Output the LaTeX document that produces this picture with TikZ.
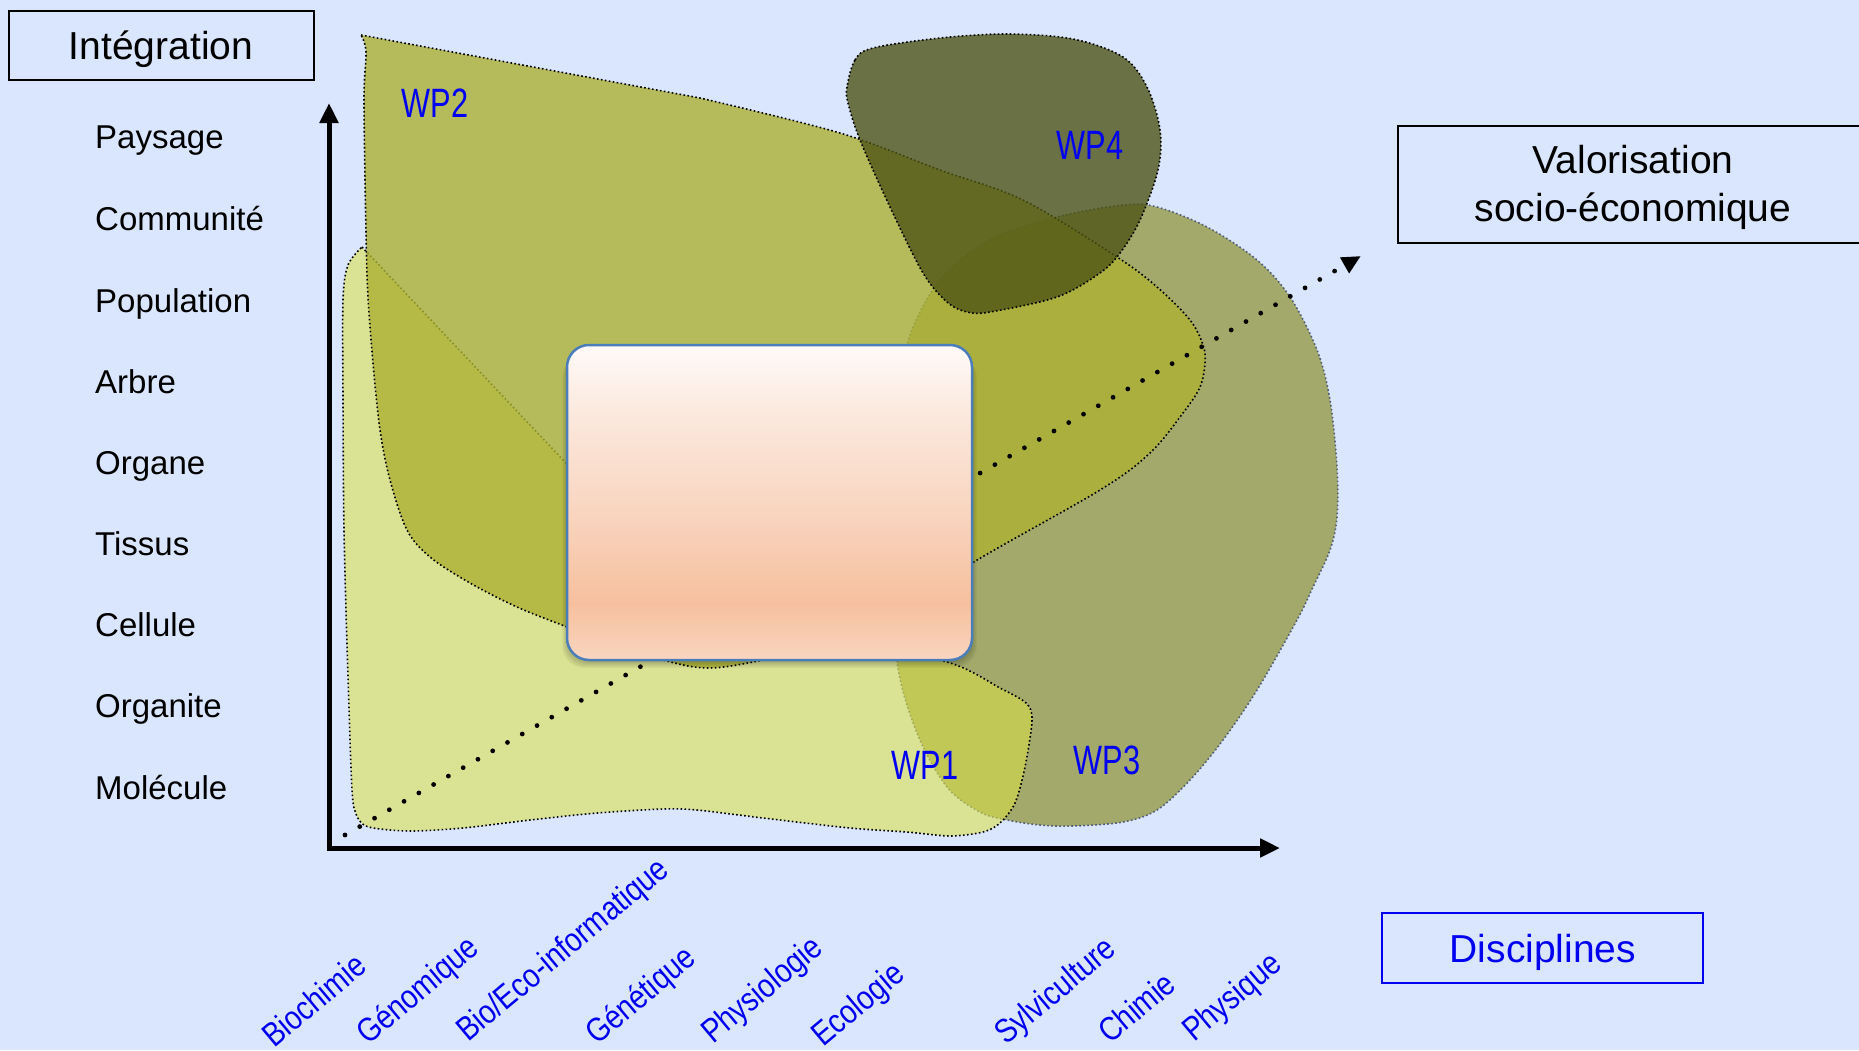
\documentclass[tikz,border=0pt]{standalone}
\usepackage{fontspec}
\setmainfont{Liberation Sans}
\usetikzlibrary{arrows.meta}
\definecolor{bg}{RGB}{218,229,254}
\definecolor{wpone}{RGB}{218,224,72}
\definecolor{wptwo}{RGB}{172,177,51}
\definecolor{wpthree}{RGB}{162,169,106}
\definecolor{wpfour}{RGB}{77,83,20}
\definecolor{wpthreeline}{RGB}{80,92,120}
\definecolor{wpblue}{RGB}{0,0,240}
\definecolor{boxborder}{RGB}{74,126,187}
\definecolor{shB}{RGB}{249,213,192}
\definecolor{shP}{RGB}{246,192,158}
\definecolor{shM}{RGB}{249,215,195}
\definecolor{shL}{RGB}{251,231,219}
\definecolor{shT}{RGB}{255,250,248}
\pgfdeclareverticalshading{boxshade}{100bp}{color(0bp)=(shB); color(25bp)=(shB); color(34bp)=(shP); color(50bp)=(shM); color(63bp)=(shL); color(75bp)=(shT); color(100bp)=(shT)}
\begin{document}
\begin{tikzpicture}[x=1pt,y=-1pt,
  lvl/.style={anchor=base west, inner sep=0pt, font=\fontsize{33}{40}\selectfont},
  disc/.style={anchor=base west, inner sep=0pt, rotate=40, xscale=0.85, text=wpblue, font=\fontsize{33.5}{40}\selectfont},
  wplabel/.style={inner sep=0pt, text=wpblue, font=\fontsize{41}{48}\selectfont, xscale=0.75},
  bigtext/.style={inner sep=0pt, anchor=base, font=\fontsize{39}{48}\selectfont},
  shapeline/.style={line width=1.6pt, dash pattern=on 1.6pt off 2.4pt},
  axisline/.style={line width=5pt, -{Triangle[length=20pt,width=18pt]}},
  frame/.style={draw, line width=2.5pt, inner sep=0pt},
]
\useasboundingbox (0,0) rectangle (1859,1050);
\fill[bg] (0,0) rectangle (1859,1050);

% WP3
\path[fill=wpthree, draw=wpthreeline, shapeline]
  plot[smooth cycle, tension=0.55] coordinates {(1123,205) (1157,207) (1207,227) (1257,260) (1290,297) (1317,350) (1330,400) (1337,467) (1337,517) (1330,550) (1313,587) (1297,620) (1257,690) (1223,740) (1190,780) (1157,810) (1123,822) (1073,826) (1040,825) (1007,820) (980,812) (947,787) (917,733) (897,662) (893,560) (895,450) (900,390) (910,335) (940,280) (990,240) (1057,217)};

% WP1
\path[fill=wpone, fill opacity=0.58, draw=black, shapeline]
  (362,247) -- (565,462) -- (700,600) -- plot[smooth, tension=0.5] coordinates {(700,600) (830,640) (947,662) (1000,688) (1026,703) (1032,720) (1025,767) (1015,803) (1000,823) (983,832) (950,836) (907,832) (850,828) (763,818) (697,810) (663,809) (597,813) (530,820) (463,828) (413,831) (380,829) (364,825) (356,814) (352,790) (348,677) (344,530) (343,400) (343,300) (348,265) (362,247)} -- cycle;

% WP2
\path[fill=wptwo, fill opacity=0.8, draw=black, shapeline]
  (361,35) -- (700,98) -- plot[smooth, tension=0.55] coordinates {(700,98) (840,133) (940,170) (1023,200) (1117,257) (1157,287) (1190,320) (1203,345) (1205,363) (1200,387) (1183,413) (1150,453) (1100,490) (972,563) (850,640) (758,661) (707,668) (663,660) (600,640) (567,627) (517,607) (470,583) (430,557) (407,530) (390,480) (380,430) (373,363) (368,297) (366,233) (364,100) (366,52) (361,35)} -- cycle;

% WP4
\path[fill=wpfour, fill opacity=0.79, draw=black, shapeline]
  plot[smooth cycle, tension=0.55] coordinates {(847,87) (855,60) (873,48) (940,38) (1007,34) (1073,39) (1123,57) (1147,87) (1160,130) (1158,170) (1140,220) (1120,253) (1100,273) (1057,297) (990,312) (967,312) (947,302) (923,273) (890,207) (860,140) (848,103)};

% dotted arrow
\coordinate (dstart) at (345,835);
\coordinate (dend) at (1361,256);
\draw[line width=4.8pt, line cap=round, dash pattern=on 0pt off 17pt, -{Triangle[length=19pt,width=17pt]}] (dstart) -- (dend);

% axes
\coordinate (origin) at (329,848);
\coordinate (ytip) at (329,103);
\coordinate (xtip) at (1280,848);
\draw[axisline] ([yshift=-2.5pt]origin) -- (ytip);
\draw[axisline] ([xshift=-2.5pt]origin) -- (xtip);

% central box with shadow
\foreach \s in {1,...,7}
  \fill[black, opacity=0.035, rounded corners=22pt] (569-\s,349+\s) rectangle (970+\s,661+\s);
\node[draw=boxborder, line width=2.5pt, rounded corners=22pt, shading=boxshade, minimum width=405pt, minimum height=315pt, inner sep=0pt] (centralbox) at (769.5,502.5) {};

% boxes
\node[frame, minimum width=305pt, minimum height=69pt] (intbox) at (161.5,45.5) {};
\node[bigtext] (inttext) at (161,59) {Intégration};
\node[frame, minimum width=477pt, minimum height=117pt] (valbox) at (1636.5,184.5) {};
\node[bigtext] (valtextA) at (1633,173) {Valorisation};
\node[bigtext] (valtextB) at (1633,221) {socio-économique};
\node[frame, draw=wpblue, minimum width=321pt, minimum height=70pt] (discbox) at (1542.5,948) {};
\node[bigtext, text=wpblue] (disctext) at (1543,962) {Disciplines};

% level labels
\node[lvl] (l1) at (95,148) {Paysage};
\node[lvl] (l2) at (95,230) {Communité};
\node[lvl] (l3) at (95,312) {Population};
\node[lvl] (l4) at (95,393) {Arbre};
\node[lvl] (l5) at (95,474) {Organe};
\node[lvl] (l6) at (95,555) {Tissus};
\node[lvl] (l7) at (95,636) {Cellule};
\node[lvl] (l8) at (95,717) {Organite};
\node[lvl] (l9) at (95,799) {Molécule};

% WP labels
\node[wplabel] (wp2) at (435,103) {WP2};
\node[wplabel] (wp4) at (1090,145) {WP4};
\node[wplabel] (wp1) at (925,765) {WP1};
\node[wplabel] (wp3) at (1107,760) {WP3};

% discipline labels
\node[disc] (d1) at (274,1049) {Biochimie};
\node[disc] (d2) at (368,1046) {Génomique};
\node[disc] (d3) at (468,1043) {Bio/Eco-informatique};
\node[disc] (d4) at (597,1046) {Génétique};
\node[disc] (d5) at (713,1045) {Physiologie};
\node[disc] (d6) at (823,1048) {Ecologie};
\node[disc] (d7) at (1006,1046) {Sylviculture};
\node[disc] (d8) at (1110,1045) {Chimie};
\node[disc] (d9) at (1194,1043) {Physique};
\end{tikzpicture}
\end{document}
